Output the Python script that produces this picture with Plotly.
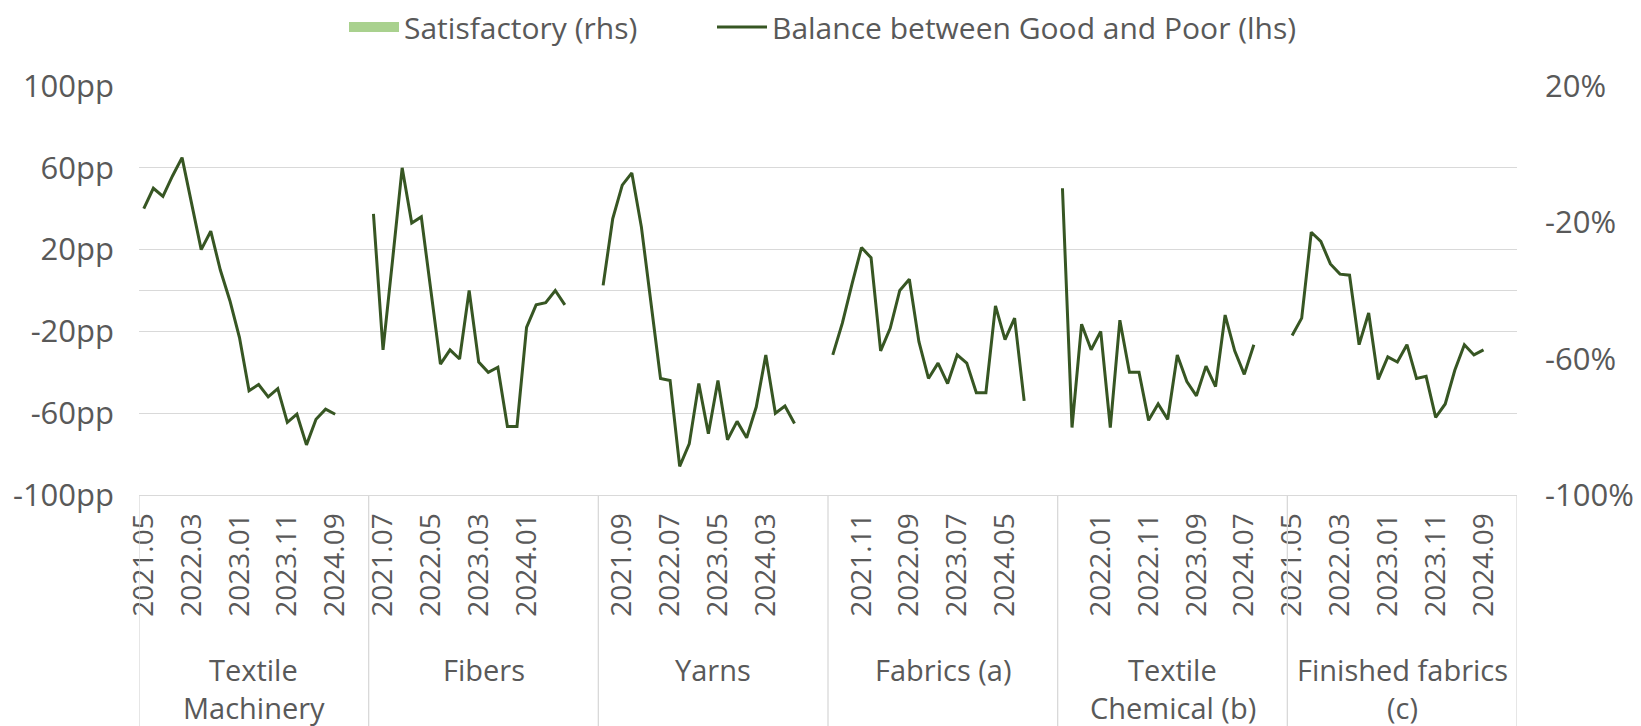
import plotly.graph_objects as go

# ---------------- data ----------------
GROUPS = ["Textile<br>Machinery", "Fibers", "Yarns", "Fabrics (a)",
          "Textile<br>Chemical (b)", "Finished fabrics<br>(c)"]

DATES = ["2021.05", "2021.07", "2021.09", "2021.11",
         "2022.01", "2022.03", "2022.05", "2022.07", "2022.09", "2022.11",
         "2023.01", "2023.03", "2023.05", "2023.07", "2023.09", "2023.11",
         "2024.01", "2024.03", "2024.05", "2024.07", "2024.09"]
BLANK_SLOTS = ["", "", ""]   # empty categories closing each group

textile_machinery = [40, 50, 46, 56, 65, 42, 20, 29, 10, -5, -23, -49, -46, -52,
                     -48, -64.5, -60.5, -75.5, -63, -58, -60.5]
fibers = [37.5, -29, 15, 60, 33, 36, 0, -36, -29, -33.5, 0, -35, -40, -37.5,
          -66.5, -66.5, -18, -7, -6, 0, -7]
yarns = [2.5, 35, 51.5, 57.5, 31, -7, -43, -44, -86, -75, -45.5, -70, -44, -73,
         -64, -72, -57, -31.5, -60, -56.5, -65]
fabrics = [-31.5, -16, 3, 21, 16, -29.5, -18.5, 0, 5.5, -25, -43, -35.5, -45.5,
           -31.5, -35.5, -50, -50, -7.5, -24, -13.5, -54]
textile_chemical = [50, -67, -16.5, -29, -20, -67, -14.5, -40, -40, -63.5, -55.5,
                    -63, -31.5, -44.5, -51.5, -37, -47, -12, -29.5, -41, -26.5]
finished_fabrics = [-22, -13.5, 28.5, 24, 13, 8, 7.5, -26.5, -11, -43.5, -32.5,
                    -35, -26.5, -43, -42, -62, -55.5, -39, -26.5, -31.5, -29]

BALANCE = [textile_machinery, fibers, yarns, fabrics, textile_chemical, finished_fabrics]
SATISFACTORY = [[None] * len(DATES) for _ in GROUPS]   # no visible bars in the chart

LEFT_TICKS = [100, 60, 20, -20, -60, -100]
RIGHT_TICKS = [0.2, -0.2, -0.6, -1.0]

# ---------------- build category positions ----------------
cats = DATES + BLANK_SLOTS
n_per = len(cats)
xs, ys, sat, labels = [], [], [], []
for g, vals in enumerate(BALANCE):
    for k, c in enumerate(cats):
        xs.append(g * n_per + k)
        ys.append(vals[k] if k < len(vals) else None)
        sat.append(SATISFACTORY[g][k] if k < len(SATISFACTORY[g]) else None)
        labels.append(c)

tickvals = [x for x in xs if x % 5 == 0 and labels[x] != ""]
ticktext = [labels[x] for x in tickvals]

GRID = "#D9D9D9"
TXT = "#595959"
BAR = "#A9D18E"
LINE = "#375623"
FONT = "Open Sans"

fig = go.Figure()
fig.add_trace(go.Bar(x=xs, y=sat, name="Satisfactory (rhs)", yaxis="y2",
                     marker_color=BAR, showlegend=False, legendgroup="sat"))
# legend key for the bar series (draws nothing on the plot)
fig.add_trace(go.Scatter(x=[None], y=[None], mode="lines", name="Satisfactory (rhs)",
                         yaxis="y2", line=dict(color=BAR, width=17), legendgroup="sat",
                         hoverinfo="skip", legend="legend"))
fig.add_trace(go.Scatter(x=xs, y=ys, mode="lines", name="Balance between Good and Poor (lhs)",
                         line=dict(color=LINE, width=3), connectgaps=False,
                         legend="legend2"))

# group separators and labels
W, H = 1641, 726
left, right = 139, 1517
top, bottom = 86, 495
ph = bottom - top
pw = right - left
shapes = []
for g in range(len(GROUPS) + 1):
    xb = g * n_per - 0.5
    shapes.append(dict(type="line", xref="x", yref="paper", x0=xb, x1=xb,
                       y0=0, y1=-(H - bottom) / ph, line=dict(color=GRID, width=1.3)))
annotations = []
line_y = [669, 707]
for g, name in enumerate(GROUPS):
    xc = g * n_per + (n_per - 1) / 2
    for i, part in enumerate(name.split("<br>")):
        annotations.append(dict(text=part, xref="x", yref="paper", x=xc,
                                y=(bottom - line_y[i]) / ph, showarrow=False,
                                xanchor="center", yanchor="middle",
                                font=dict(family=FONT, size=29, color=TXT)))

leg_common = dict(orientation="h", xanchor="left", y=(bottom - 27) / ph, yanchor="middle",
                  font=dict(family=FONT, size=30, color=TXT), itemwidth=50,
                  bgcolor="rgba(0,0,0,0)")

fig.update_layout(
    width=W, height=H,
    margin=dict(l=left, r=W - right, t=top, b=H - bottom, autoexpand=False),
    paper_bgcolor="white", plot_bgcolor="white",
    font=dict(family=FONT, size=30, color=TXT),
    showlegend=True,
    legend=dict(x=(344 - left) / pw, **leg_common),
    legend2=dict(x=(712 - left) / pw, **leg_common),
    shapes=shapes, annotations=annotations,
    xaxis=dict(range=[-0.5, len(xs) - 0.5], tickmode="array", tickvals=tickvals,
               ticktext=ticktext, tickangle=-90, showgrid=False, zeroline=False,
               showline=True, linecolor=GRID, linewidth=1.3, ticks="",
               tickfont=dict(family=FONT, size=28, color=TXT), ticklabelstandoff=6),
    yaxis=dict(range=[-100, 100], tickmode="array", tickvals=LEFT_TICKS,
               ticktext=[f"{v}pp" for v in LEFT_TICKS], showgrid=True, gridcolor=GRID,
               gridwidth=1.3, zeroline=True, zerolinecolor=GRID, zerolinewidth=1.3,
               showline=False, ticks="", ticklabelstandoff=24,
               tickfont=dict(family=FONT, size=31, color=TXT)),
    yaxis2=dict(range=[-1.0, 0.2], overlaying="y", side="right", tickmode="array",
                tickvals=RIGHT_TICKS, ticktext=[f"{round(v*100)}%" for v in RIGHT_TICKS],
                showgrid=False, zeroline=False, showline=False, ticks="",
                ticklabelstandoff=27, tickfont=dict(family=FONT, size=31, color=TXT)),
)

fig.write_html("out.html", config={"displayModeBar": False},
               post_script="document.body.style.margin='0';document.body.style.overflow='hidden';")
